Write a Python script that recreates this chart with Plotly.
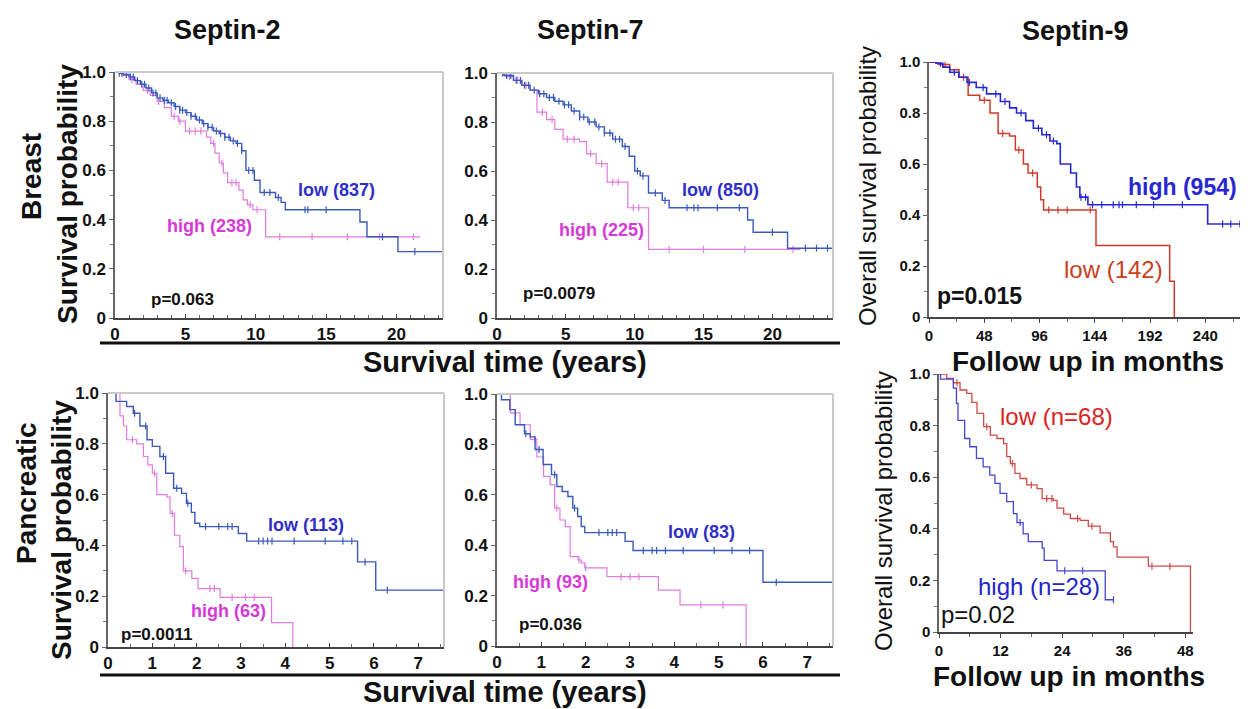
import plotly.graph_objects as go

W, H = 1248, 709
OX, OY = 8, 8            # page body margin of the html page
FW, FH = W - OX, H - OY  # figure size
FONT = "Liberation Sans, Arial, sans-serif"

# ---------------- data ----------------
# Septin-2, breast (years)
s2b_low_t = [0, 0.3, 0.6, 1.0, 1.4, 1.8, 2.2, 2.6, 3.0, 3.4, 3.8, 4.2, 4.6, 5.0, 5.4, 5.8, 6.2, 6.6, 7.0, 7.4, 7.8, 8.2, 8.6, 9.0, 9.3, 9.9, 10.3, 11.4, 11.8, 12.1, 17.4, 17.9, 20.1, 23.3]
s2b_low_s = [1.0, 0.995, 0.99, 0.98, 0.965, 0.95, 0.935, 0.915, 0.895, 0.885, 0.875, 0.86, 0.845, 0.835, 0.82, 0.805, 0.79, 0.775, 0.76, 0.75, 0.735, 0.72, 0.71, 0.68, 0.60, 0.56, 0.51, 0.49, 0.47, 0.44, 0.39, 0.33, 0.27, 0.27]
s2b_low_c = [0.3, 0.5, 0.8, 1.1, 1.3, 1.6, 1.9, 2.1, 2.4, 2.7, 2.9, 3.2, 3.5, 3.7, 4.0, 4.3, 4.6, 4.8, 5.1, 5.4, 5.7, 6.0, 6.3, 6.6, 6.9, 7.2, 7.5, 7.8, 8.1, 8.4, 8.7, 9.0, 9.5, 9.8, 10.6, 11.0, 11.6, 13.5, 13.7, 15.0, 19.0, 21.3]
s2b_high_t = [0, 0.5, 1.0, 1.5, 2.0, 2.5, 3.0, 3.5, 4.0, 4.5, 5.0, 6.5, 6.8, 7.1, 7.4, 7.7, 8.0, 8.8, 9.1, 9.4, 9.8, 10.7, 21.7]
s2b_high_s = [1.0, 0.985, 0.97, 0.95, 0.925, 0.905, 0.88, 0.855, 0.82, 0.80, 0.76, 0.735, 0.71, 0.67, 0.63, 0.59, 0.55, 0.52, 0.48, 0.46, 0.44, 0.33, 0.33]
s2b_high_c = [1.2, 2.3, 3.1, 4.2, 4.6, 5.3, 5.7, 6.1, 7.0, 7.6, 8.3, 8.6, 9.6, 10.1, 11.7, 14.0, 16.5, 18.8, 21.2]

# Septin-7, breast (years)
s7b_low_t = [0, 0.5, 1.2, 1.8, 2.4, 3.0, 3.6, 4.2, 4.8, 5.4, 6.0, 6.6, 7.2, 7.8, 8.4, 9.1, 9.6, 10.0, 10.4, 11.0, 12.0, 12.5, 18.2, 18.6, 21.1, 24.4]
s7b_low_s = [1.0, 0.99, 0.97, 0.95, 0.93, 0.915, 0.90, 0.885, 0.87, 0.845, 0.82, 0.80, 0.78, 0.755, 0.73, 0.70, 0.66, 0.60, 0.58, 0.51, 0.48, 0.45, 0.40, 0.35, 0.285, 0.285]
s7b_low_c = [0.4, 0.7, 1.0, 1.4, 1.7, 2.0, 2.3, 2.7, 3.1, 3.4, 3.8, 4.1, 4.5, 4.9, 5.2, 5.6, 6.0, 6.3, 6.7, 7.1, 7.4, 7.8, 8.2, 8.6, 8.9, 9.3, 10.2, 10.6, 11.5, 12.2, 13.8, 14.3, 14.6, 16.0, 17.6, 20.0, 22.4, 23.2, 24.0]
s7b_high_t = [0, 0.6, 1.2, 1.8, 2.4, 2.9, 3.6, 4.2, 4.8, 6.0, 6.5, 7.2, 8.0, 9.5, 11.0, 22.0]
s7b_high_s = [1.0, 0.985, 0.97, 0.95, 0.93, 0.84, 0.81, 0.77, 0.73, 0.72, 0.67, 0.63, 0.555, 0.45, 0.28, 0.28]
s7b_high_c = [0.9, 1.5, 2.1, 3.3, 4.0, 5.1, 5.6, 6.8, 7.6, 8.4, 8.8, 9.9, 10.3, 12.5, 15.0, 18.0, 21.5]

# Septin-9, breast (months)
s9b_high_t = [0, 6, 12, 18, 26, 33, 41, 50, 62, 70, 76, 84, 90.6, 98, 105, 111, 114, 123, 128, 131, 138, 242, 277]
s9b_high_s = [1.0, 0.995, 0.98, 0.96, 0.94, 0.92, 0.90, 0.875, 0.845, 0.82, 0.80, 0.77, 0.74, 0.715, 0.69, 0.68, 0.60, 0.565, 0.51, 0.47, 0.44, 0.365, 0.365]
s9b_high_c = [10, 22, 35, 47, 58, 66, 80, 95, 102, 108, 132, 136, 142, 150, 160, 165, 168, 180, 195, 220, 255, 262, 270]
s9b_low_t = [0, 8, 18, 26, 34, 44, 53, 60, 70, 75, 82, 86, 94, 97, 99.5, 145, 209, 213]
s9b_low_s = [1.0, 0.99, 0.97, 0.94, 0.87, 0.85, 0.80, 0.72, 0.71, 0.655, 0.60, 0.565, 0.51, 0.46, 0.42, 0.28, 0.14, 0.0]
s9b_low_c = [14, 30, 48, 64, 78, 90, 104, 112, 120, 140]

# Septin-2, pancreatic (years)
s2p_low_t = [0, 0.18, 0.42, 0.57, 0.72, 0.88, 1.0, 1.17, 1.3, 1.48, 1.66, 1.77, 1.88, 1.96, 2.07, 2.94, 3.13, 5.63, 6.04, 7.6]
s2p_low_s = [1.0, 0.967, 0.947, 0.92, 0.87, 0.816, 0.79, 0.75, 0.684, 0.625, 0.605, 0.566, 0.53, 0.487, 0.474, 0.447, 0.417, 0.335, 0.224, 0.224]
s2p_low_c = [0.6, 0.85, 1.25, 1.55, 1.8, 2.2, 2.5, 2.7, 2.8, 3.4, 3.5, 3.6, 3.7, 4.2, 4.9, 5.3, 5.5, 5.8, 6.3]
s2p_high_t = [0, 0.27, 0.35, 0.42, 0.65, 0.8, 0.9, 1.0, 1.1, 1.33, 1.4, 1.5, 1.62, 1.7, 1.89, 2.03, 2.53, 3.69, 4.17]
s2p_high_s = [1.0, 0.91, 0.87, 0.816, 0.80, 0.75, 0.717, 0.684, 0.60, 0.59, 0.526, 0.44, 0.395, 0.30, 0.27, 0.23, 0.195, 0.096, 0.0]
s2p_high_c = [0.55, 1.05, 1.45, 1.75, 2.3, 2.4, 2.8, 3.1, 3.3]

# Septin-7, pancreatic (years)
s7p_low_t = [0, 0.1, 0.29, 0.41, 0.62, 0.75, 0.86, 1.04, 1.23, 1.35, 1.47, 1.6, 1.71, 1.82, 1.9, 1.98, 2.89, 3.07, 6.0, 7.6]
s7p_low_s = [1.0, 0.977, 0.938, 0.878, 0.842, 0.83, 0.78, 0.72, 0.68, 0.633, 0.613, 0.593, 0.547, 0.514, 0.474, 0.45, 0.415, 0.379, 0.253, 0.253]
s7p_low_c = [0.65, 0.95, 1.3, 1.75, 2.3, 2.5, 2.6, 2.7, 3.3, 3.5, 3.6, 3.8, 4.2, 4.9, 5.3, 5.7, 6.3]
s7p_high_t = [0, 0.3, 0.52, 0.75, 0.9, 1.05, 1.2, 1.3, 1.42, 1.54, 1.65, 1.83, 1.9, 1.98, 2.48, 3.64, 4.13, 5.62]
s7p_high_s = [1.0, 0.925, 0.878, 0.82, 0.75, 0.673, 0.64, 0.547, 0.50, 0.474, 0.355, 0.342, 0.33, 0.31, 0.275, 0.222, 0.163, 0.0]
s7p_high_c = [0.85, 1.35, 1.85, 2.0, 2.8, 3.0, 3.2, 4.6, 5.1]

# Septin-9, pancreatic (months)
s9p_low_t = [0, 1.5, 2.8, 4.1, 5.4, 6.4, 7.4, 8.7, 10.0, 11.3, 12.6, 13.2, 13.9, 14.8, 15.8, 17.1, 19.1, 20.1, 22.3, 23.0, 24.3, 25.6, 27.5, 29.1, 31.4, 33.4, 34.0, 34.7, 40.8, 49.0]
s9p_low_s = [1.0, 0.983, 0.966, 0.938, 0.925, 0.89, 0.847, 0.796, 0.763, 0.75, 0.73, 0.68, 0.653, 0.615, 0.595, 0.57, 0.556, 0.517, 0.51, 0.48, 0.457, 0.44, 0.433, 0.41, 0.384, 0.35, 0.33, 0.29, 0.255, 0.0]
s9p_low_c = [3.5, 9.3, 14.3, 18.0, 21.0, 22.0, 27.0, 29.8, 41.5, 45.0]
s9p_high_t = [0, 0.3, 2.8, 3.4, 3.7, 5.0, 6.0, 7.3, 8.6, 9.9, 10.9, 11.9, 13.2, 14.5, 15.2, 16.4, 17.4, 20.1, 20.5, 23.0, 32.4, 34.0]
s9p_high_s = [1.0, 0.98, 0.945, 0.886, 0.82, 0.75, 0.718, 0.673, 0.64, 0.608, 0.576, 0.537, 0.505, 0.459, 0.424, 0.38, 0.35, 0.325, 0.278, 0.237, 0.125, 0.125]
s9p_high_c = [15.8, 24.5, 28.0, 34.0]

yr_ticks_breast = [0, 5, 10, 15, 20]
yr_ticks_panc = [0, 1, 2, 3, 4, 5, 6, 7]
mo_ticks_breast = [0, 48, 96, 144, 192, 240]
mo_ticks_panc = [0, 12, 24, 36, 48]
surv_ticks = [0, 0.2, 0.4, 0.6, 0.8, 1.0]
surv_labels = ["0", "0.2", "0.4", "0.6", "0.8", "1.0"]

# ---------------- colours ----------------
C_LOW_LINE = "#3a5abb"
C_LOW_TXT = "#2f2fc8"
C_HIGH_LINE = "#e07ce0"
C_HIGH_TXT = "#d63ad6"
C_S9_BLUE = "#2828d2"
C_S9_RED = "#cf3a2a"

fig = go.Figure()


def fx(p):
    return (p - OX) / FW


def fy(p):
    return 1 - (p - OY) / FH


def surv_at(ts, ss, t):
    v = ss[0]
    for a, b in zip(ts, ss):
        if a <= t:
            v = b
    return v


def names(i):
    if i == 1:
        return "x", "y", "xaxis", "yaxis"
    return f"x{i}", f"y{i}", f"xaxis{i}", f"yaxis{i}"


def add_curve(i, ts, ss, cens, color, width):
    xn, yn, _, _ = names(i)
    fig.add_trace(go.Scatter(x=ts, y=ss, mode="lines", line=dict(shape="hv", color=color, width=width),
                             xaxis=xn, yaxis=yn, hoverinfo="skip"))
    fig.add_trace(go.Scatter(x=cens, y=[surv_at(ts, ss, c) for c in cens], mode="markers",
                             marker=dict(symbol="line-ns-open", size=5, color=color,
                                         line=dict(color=color, width=1.2)),
                             xaxis=xn, yaxis=yn, hoverinfo="skip"))


def set_axes(i, xd, yd, xr, xtv, xminor, boxed, tfs, xticks_dir):
    xn, yn, xk, yk = names(i)
    tf = dict(family=FONT, size=tfs, color="#111", weight="bold")
    xa = dict(domain=[fx(xd[0]), fx(xd[1])], range=list(xr), anchor=yn, automargin=False,
              tickmode="array", tickvals=xtv, ticktext=[str(v) for v in xtv],
              showline=True, linecolor="#444", linewidth=1.5, ticks=xticks_dir, ticklen=4,
              tickcolor="#444", minor=dict(dtick=xminor, ticks=xticks_dir, ticklen=3, tickcolor="#666"),
              showgrid=False, zeroline=False, tickfont=tf, fixedrange=True)
    ya = dict(domain=[fy(yd[1]), fy(yd[0])], range=[0, 1.0], anchor=xn, automargin=False,
              tickmode="array", tickvals=surv_ticks, ticktext=surv_labels,
              showline=True, linecolor="#666", linewidth=1.5, ticks="outside", ticklen=4,
              tickcolor="#666", minor=dict(dtick=0.1, ticks="outside", ticklen=3, tickcolor="#777"),
              showgrid=False, zeroline=False, tickfont=tf, fixedrange=True)
    fig.update_layout({xk: xa, yk: ya})
    if boxed:
        dx = f"{xn} domain"
        dy = f"{yn} domain"
        fig.add_shape(type="line", xref=dx, yref=dy, x0=0, x1=1, y0=1, y1=1,
                      line=dict(color="#c9c9c9", width=2))
        fig.add_shape(type="line", xref=dx, yref=dy, x0=1, x1=1, y0=0, y1=1,
                      line=dict(color="#c9c9c9", width=2))


# panels (pixel boxes of the reference)
set_axes(1, (115, 443), (72, 318), (0, 23.3), yr_ticks_breast, 1, True, 17, "inside")
set_axes(2, (497, 833), (73, 318), (0, 24.4), yr_ticks_breast, 1, True, 17, "inside")
set_axes(3, (929, 1248), (62, 317), (0, 277), mo_ticks_breast, 24, False, 15, "outside")
set_axes(4, (108, 444), (393, 647), (0, 7.58), yr_ticks_panc, 0.5, True, 17, "inside")
set_axes(5, (497, 833), (394, 646), (0, 7.58), yr_ticks_panc, 0.5, True, 17, "inside")
set_axes(6, (939, 1193), (374, 632), (0, 49.5), mo_ticks_panc, 6, False, 15, "outside")

add_curve(1, s2b_high_t, s2b_high_s, s2b_high_c, C_HIGH_LINE, 1.2)
add_curve(1, s2b_low_t, s2b_low_s, s2b_low_c, C_LOW_LINE, 1.4)
add_curve(2, s7b_high_t, s7b_high_s, s7b_high_c, C_HIGH_LINE, 1.2)
add_curve(2, s7b_low_t, s7b_low_s, s7b_low_c, C_LOW_LINE, 1.4)
add_curve(3, s9b_low_t, s9b_low_s, s9b_low_c, C_S9_RED, 1.5)
add_curve(3, s9b_high_t, s9b_high_s, s9b_high_c, C_S9_BLUE, 1.6)
add_curve(4, s2p_high_t, s2p_high_s, s2p_high_c, C_HIGH_LINE, 1.2)
add_curve(4, s2p_low_t, s2p_low_s, s2p_low_c, C_LOW_LINE, 1.4)
add_curve(5, s7p_high_t, s7p_high_s, s7p_high_c, C_HIGH_LINE, 1.2)
add_curve(5, s7p_low_t, s7p_low_s, s7p_low_c, C_LOW_LINE, 1.4)
add_curve(6, s9p_low_t, s9p_low_s, s9p_low_c, "#d24a44", 1.3)
add_curve(6, s9p_high_t, s9p_high_s, s9p_high_c, "#4646d0", 1.3)


def txt(x, y, s, size, color="#111", bold=True, angle=0):
    fig.add_annotation(x=fx(x), y=fy(y), xref="paper", yref="paper", text=s, showarrow=False,
                       textangle=angle, xanchor="center", yanchor="middle",
                       font=dict(family=FONT, size=size, color=color, weight="bold" if bold else "normal"))


# titles
txt(227, 30, "Septin-2", 27)
txt(590, 30, "Septin-7", 27)
txt(1075, 31, "Septin-9", 27)

# row labels
txt(32, 177, "Breast", 28, angle=-90)
txt(67, 194, "Survival probability", 28, angle=-90)
txt(26, 493, "Pancreatic", 28, angle=-90)
txt(61, 530, "Survival probability", 28, angle=-90)
txt(867, 186, "Overall survival probability", 24, bold=False, angle=-90)
txt(883, 511, "Overall survival probability", 24, bold=False, angle=-90)

# x titles
txt(505, 362, "Survival time (years)", 29)
txt(505, 692, "Survival time (years)", 29)
txt(1088, 361, "Follow up in months", 28)
txt(1069, 676, "Follow up in months", 28)

# separator lines
for yy in (343, 675):
    fig.add_shape(type="line", xref="paper", yref="paper", x0=fx(100), x1=fx(840),
                  y0=fy(yy), y1=fy(yy), line=dict(color="#111", width=3))

# in-plot labels
txt(336, 190, "low (837)", 18, C_LOW_TXT)
txt(209, 226, "high (238)", 18, C_HIGH_TXT)
txt(182, 300, "p=0.063", 17)
txt(720, 190, "low (850)", 18, C_LOW_TXT)
txt(601, 230, "high (225)", 18, C_HIGH_TXT)
txt(559, 293, "p=0.0079", 17)
txt(1182, 187, "high (954)", 23, C_S9_BLUE)
txt(1113, 269, "low (142)", 24, "#c8401e", bold=False)
txt(980, 296, "p=0.015", 23)
txt(306, 525, "low (113)", 18, C_LOW_TXT)
txt(228, 611, "high (63)", 18, C_HIGH_TXT)
txt(156, 634, "p=0.0011", 17)
txt(701, 532, "low (83)", 18, C_LOW_TXT)
txt(550, 582, "high (93)", 18, C_HIGH_TXT)
txt(550, 624, "p=0.036", 17)
txt(1056, 417, "low (n=68)", 24, "#dd2222", bold=False)
txt(1039, 586, "high (n=28)", 24, "#2424c8", bold=False)
txt(978, 614, "p=0.02", 24, bold=False)

fig.update_layout(width=FW, height=FH, margin=dict(l=0, r=0, t=0, b=0, autoexpand=False),
                  paper_bgcolor="white", plot_bgcolor="white", showlegend=False)

fig.write_html("out.html")
